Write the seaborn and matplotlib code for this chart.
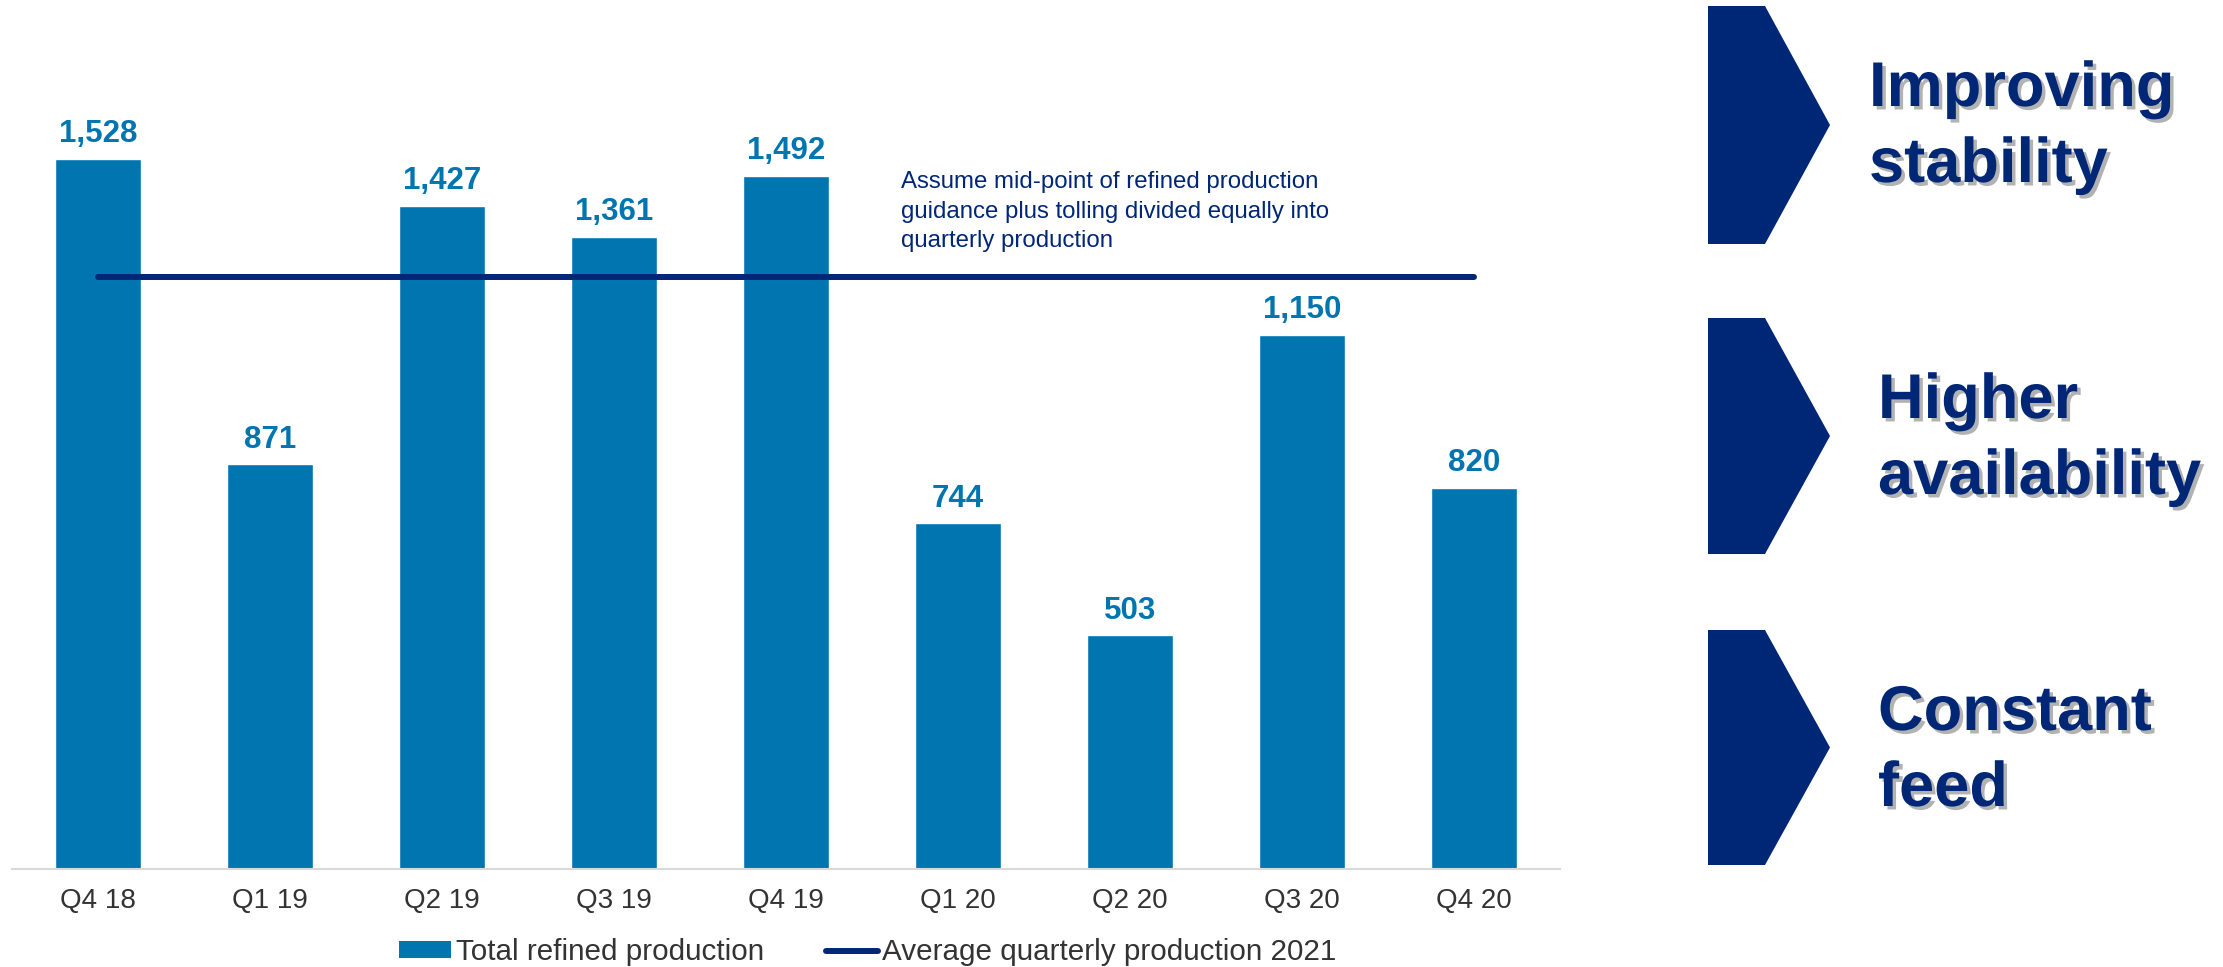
import matplotlib
matplotlib.use('Agg')
import matplotlib.pyplot as plt
import matplotlib.patheffects as pe
from matplotlib.patches import Polygon, Patch
from matplotlib.lines import Line2D
import seaborn as sns
import pandas as pd

# ------------------------------------------------------------
# data
# ------------------------------------------------------------
quarters = ['Q4 18', 'Q1 19', 'Q2 19', 'Q3 19', 'Q4 19', 'Q1 20', 'Q2 20', 'Q3 20', 'Q4 20']
production = [1528, 871, 1427, 1361, 1492, 744, 503, 1150, 820]
avg_2021 = 1275

note = ('Assume mid-point of refined production\n'
        'guidance plus tolling divided equally into\n'
        'quarterly production')
messages = [('Improving', 'stability'), ('Higher', 'availability'), ('Constant', 'feed')]

BAR = '#0075B0'
NAVY = '#002776'
GREY_TXT = '#333333'

sns.set_theme(style='white')
plt.rcParams['font.family'] = ['Liberation Sans', 'DejaVu Sans']

W, H = 2223, 967
fig = plt.figure(figsize=(W / 100, H / 100), dpi=100)

# main chart axes (pixel box: x 12..1560, y 79..869)
ax = fig.add_axes([12 / W, (H - 869) / H, 1548 / W, 790 / H])

df = pd.DataFrame({'quarter': quarters, 'value': production})
sns.barplot(data=df, x='quarter', y='value', color=BAR, saturation=1,
            width=0.5, ax=ax)
for c in ax.containers:
    ax.bar_label(c, labels=[f'{v:,}' for v in production], padding=7,
                 fontsize=22.5, fontweight='bold', color=BAR)

ax.plot(range(len(quarters)), [avg_2021] * len(quarters), color=NAVY,
        linewidth=4.3, solid_capstyle='round')

ax.set_xlim(-0.5, len(quarters) - 0.5)
ax.set_ylim(0, 1700)
ax.set_xlabel('')
ax.set_ylabel('')
ax.set_yticks([])
ax.tick_params(axis='x', length=0, pad=14, labelsize=20, labelcolor=GREY_TXT)
for s in ['top', 'right', 'left']:
    ax.spines[s].set_visible(False)
ax.spines['bottom'].set_color('#D9D9D9')
ax.spines['bottom'].set_linewidth(1.5)

fig.text(901 / W, 1 - 171 / H, note, ha='left', va='top', fontsize=17.3,
         color=NAVY, linespacing=1.45)

handles = [Patch(facecolor=BAR, edgecolor='none'),
           Line2D([0], [0], color=NAVY, linewidth=4.3, solid_capstyle='round')]
fig.legend(handles, ['Total refined production', 'Average quarterly production 2021'],
           loc='center', bbox_to_anchor=(868 / W, 1 - 952 / H), ncol=2,
           frameon=False, fontsize=21.3, labelcolor=GREY_TXT,
           handlelength=1.75, handleheight=0.5, handletextpad=0.15,
           columnspacing=2.1, borderpad=0)

# right-hand chevrons and messages, drawn in pixel coordinates
side = fig.add_axes([0, 0, 1, 1])
side.set_xlim(0, W)
side.set_ylim(H, 0)
side.axis('off')
side.patch.set_alpha(0)

chevrons = [(6, 244), (318, 554), (630, 865)]
shadow = [pe.SimplePatchShadow(offset=(2.5, -2.5), shadow_rgbFace='#7f7f7f', alpha=0.6),
          pe.Normal()]
text_x = [1869, 1878, 1878]
for (top, bot), (l1, l2), tx in zip(chevrons, messages, text_x):
    mid = (top + bot) / 2
    side.add_patch(Polygon([(1708, top), (1765, top), (1830, mid),
                            (1765, bot), (1708, bot)], closed=True,
                           facecolor=NAVY, edgecolor='none'))
    base1 = top + 100
    side.text(tx, base1, l1, ha='left', va='baseline', fontsize=45.5,
              fontweight='bold', color=NAVY, path_effects=shadow)
    side.text(tx, base1 + 76, l2, ha='left', va='baseline', fontsize=45.5,
              fontweight='bold', color=NAVY, path_effects=shadow)

plt.savefig('out.png', dpi=100)
